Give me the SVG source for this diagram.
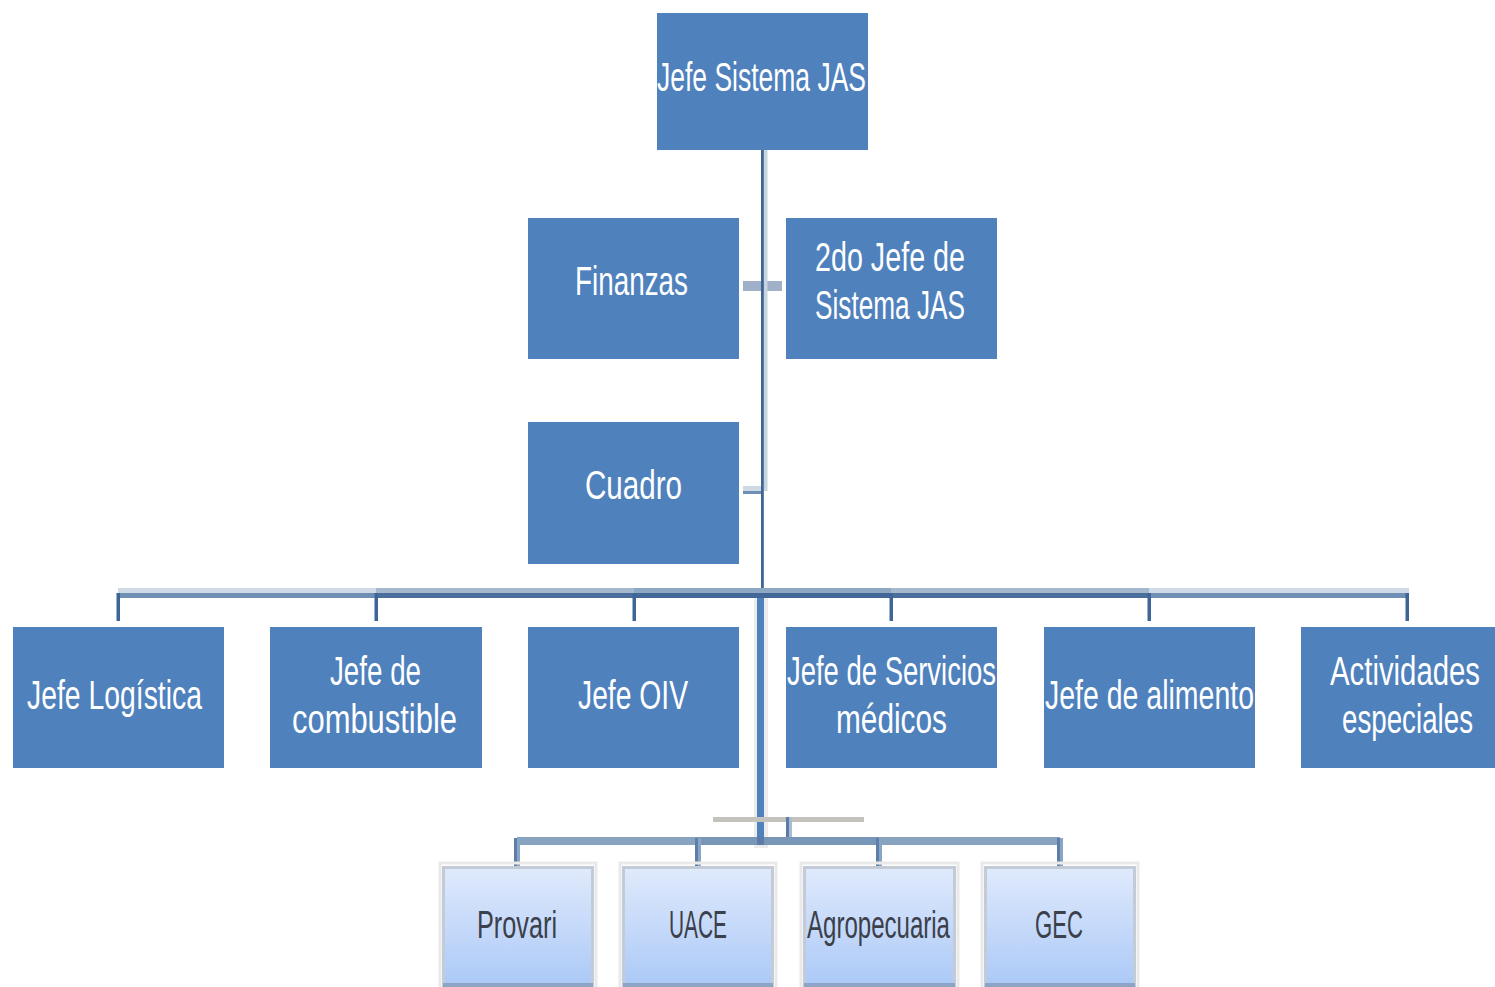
<svg xmlns="http://www.w3.org/2000/svg" width="1495" height="987" viewBox="0 0 1495 987">
  <style>
    .box { fill: #4f81bd; }
    .lbl { font-family: "Liberation Sans", Arial, sans-serif; font-size: 40px; fill: #ffffff; text-anchor: middle; }
    .sub { fill: url(#subFill); stroke: #c3cbd6; stroke-width: 3; }
    .subShade { fill: none; stroke: #e9e9e9; stroke-width: 3; }
    .subBase { fill: #8ea4c4; }
    .slbl { font-family: "Liberation Sans", Arial, sans-serif; font-size: 38px; fill: #3b404a; text-anchor: middle; }
    .drop { fill: #3f6597; }
  </style>
  <defs>
    <linearGradient id="subFill" x1="0" y1="0" x2="0" y2="1">
      <stop offset="0" stop-color="#e0eafc"/>
      <stop offset="1" stop-color="#a8c7f7"/>
    </linearGradient>
  </defs>

  <rect width="1495" height="987" fill="#ffffff"/>

  <!-- connectors -->
  <g id="connectors">
    <!-- staff link to Finanzas / 2do Jefe -->
    <rect x="743" y="281" width="39" height="10" fill="#9fb1c8"/>
    <!-- staff link to Cuadro -->
    <rect x="743" y="486" width="18" height="5" fill="#cfd9e3"/>
    <rect x="743" y="491" width="18" height="3" fill="#6f8fb4"/>
    <!-- main trunk -->
    <rect x="763.5" y="150" width="4" height="341" fill="#c8d3e0"/>
    <rect x="761" y="150" width="2.8" height="448" fill="#3f6597"/>
    <!-- horizontal bus to department heads -->
    <rect x="118" y="588" width="258" height="5" fill="#d0dae6"/>
    <rect x="118" y="593" width="258" height="5" fill="#6f8fb4"/>
    <rect x="376" y="588" width="258" height="5" fill="#a5b8cd"/>
    <rect x="376" y="593" width="258" height="5" fill="#4a6f9c"/>
    <rect x="634" y="588" width="257" height="5" fill="#8ea8c3"/>
    <rect x="634" y="593" width="257" height="5" fill="#416898"/>
    <rect x="891" y="588" width="258" height="5" fill="#a5b8cd"/>
    <rect x="891" y="593" width="258" height="5" fill="#4a6f9c"/>
    <rect x="1149" y="588" width="260" height="5" fill="#d0dae6"/>
    <rect x="1149" y="593" width="260" height="5" fill="#6f8fb4"/>
    <!-- drops to department heads -->
    <rect class="drop" x="116.5" y="593" width="3.5" height="28"/>
    <rect class="drop" x="374.5" y="593" width="3.5" height="28"/>
    <rect class="drop" x="632.5" y="593" width="3.5" height="28"/>
    <rect class="drop" x="889.5" y="593" width="3.5" height="28"/>
    <rect class="drop" x="1147.5" y="593" width="3.5" height="28"/>
    <rect class="drop" x="1405.5" y="593" width="3.5" height="28"/>
    <!-- lower trunk to the enterprises -->
    <rect x="754" y="598" width="14" height="250" fill="#ececec"/>
    <rect x="757" y="598" width="7" height="242" fill="#4f81bd"/>
    <!-- grey rule and short link -->
    <rect x="713" y="817" width="151" height="5" fill="#c4c2bc"/>
    <rect x="786" y="817" width="3" height="23" fill="#5a7ca6"/>
    <rect x="789" y="817" width="3" height="23" fill="#a8bcd4"/>
    <!-- lower bus -->
    <rect x="517" y="837" width="181" height="8" fill="#88a3c0"/>
    <rect x="698" y="837" width="181" height="8" fill="#7896b8"/>
    <rect x="879" y="837" width="181" height="8" fill="#88a3c0"/>
    <rect x="757" y="837" width="7" height="8" fill="#5a7ca6"/>
    <!-- drops to enterprises -->
    <rect x="514" y="838" width="3" height="28" fill="#5b7fa8"/>
    <rect x="517" y="838" width="3" height="28" fill="#8aa5c4"/>
    <rect x="695" y="838" width="3" height="28" fill="#5b7fa8"/>
    <rect x="698" y="838" width="3" height="28" fill="#8aa5c4"/>
    <rect x="876" y="838" width="3" height="28" fill="#5b7fa8"/>
    <rect x="879" y="838" width="3" height="28" fill="#8aa5c4"/>
    <rect x="1057" y="838" width="3" height="28" fill="#5b7fa8"/>
    <rect x="1060" y="838" width="3" height="28" fill="#8aa5c4"/>
  </g>

  <!-- top level -->
  <g id="jefe-sistema">
    <rect class="box" x="657" y="13" width="211" height="137"/>
    <text class="lbl" x="761.5" y="91" textLength="209" lengthAdjust="spacingAndGlyphs">Jefe Sistema JAS</text>
  </g>

  <!-- staff units -->
  <g id="finanzas">
    <rect class="box" x="528" y="218" width="211" height="141"/>
    <text class="lbl" x="631.5" y="295" textLength="113" lengthAdjust="spacingAndGlyphs">Finanzas</text>
  </g>
  <g id="segundo-jefe">
    <rect class="box" x="786" y="218" width="211" height="141"/>
    <text class="lbl" x="890" y="271" textLength="150" lengthAdjust="spacingAndGlyphs">2do Jefe de</text>
    <text class="lbl" x="890" y="319" textLength="150" lengthAdjust="spacingAndGlyphs">Sistema JAS</text>
  </g>
  <g id="cuadro">
    <rect class="box" x="528" y="422" width="211" height="142"/>
    <text class="lbl" x="633.5" y="499" textLength="97" lengthAdjust="spacingAndGlyphs">Cuadro</text>
  </g>

  <!-- department heads -->
  <g id="jefe-logistica">
    <rect class="box" x="13" y="627" width="211" height="141"/>
    <text class="lbl" x="114.5" y="709" textLength="175" lengthAdjust="spacingAndGlyphs">Jefe Logística</text>
  </g>
  <g id="jefe-combustible">
    <rect class="box" x="270" y="627" width="212" height="141"/>
    <text class="lbl" x="375.5" y="685" textLength="91" lengthAdjust="spacingAndGlyphs">Jefe de</text>
    <text class="lbl" x="374.5" y="733" textLength="165" lengthAdjust="spacingAndGlyphs">combustible</text>
  </g>
  <g id="jefe-oiv">
    <rect class="box" x="528" y="627" width="211" height="141"/>
    <text class="lbl" x="633" y="709" textLength="110" lengthAdjust="spacingAndGlyphs">Jefe OIV</text>
  </g>
  <g id="jefe-servicios-medicos">
    <rect class="box" x="786" y="627" width="211" height="141"/>
    <text class="lbl" x="891.5" y="685" textLength="209" lengthAdjust="spacingAndGlyphs">Jefe de Servicios</text>
    <text class="lbl" x="891.5" y="733" textLength="111" lengthAdjust="spacingAndGlyphs">médicos</text>
  </g>
  <g id="jefe-alimento">
    <rect class="box" x="1044" y="627" width="211" height="141"/>
    <text class="lbl" x="1149.5" y="709" textLength="209" lengthAdjust="spacingAndGlyphs">Jefe de alimento</text>
  </g>
  <g id="actividades-especiales">
    <rect class="box" x="1301" y="627" width="194" height="141"/>
    <text class="lbl" x="1405" y="685" textLength="150" lengthAdjust="spacingAndGlyphs">Actividades</text>
    <text class="lbl" x="1407.5" y="733" textLength="131" lengthAdjust="spacingAndGlyphs">especiales</text>
  </g>

  <!-- enterprises -->
  <g id="provari">
    <rect class="subShade" x="440" y="863" width="156" height="130"/>
    <rect class="sub" x="443.5" y="867.5" width="149" height="125"/>
    <rect class="subBase" x="443" y="983" width="150" height="4"/>
    <text class="slbl" x="517" y="938" textLength="80" lengthAdjust="spacingAndGlyphs">Provari</text>
  </g>
  <g id="uace">
    <rect class="subShade" x="620" y="863" width="156" height="130"/>
    <rect class="sub" x="623.5" y="867.5" width="149" height="125"/>
    <rect class="subBase" x="623" y="983" width="150" height="4"/>
    <text class="slbl" x="698" y="938" textLength="58" lengthAdjust="spacingAndGlyphs">UACE</text>
  </g>
  <g id="agropecuaria">
    <rect class="subShade" x="801" y="863" width="157" height="130"/>
    <rect class="sub" x="804.5" y="867.5" width="150" height="125"/>
    <rect class="subBase" x="804" y="983" width="151" height="4"/>
    <text class="slbl" x="878.5" y="938" textLength="143" lengthAdjust="spacingAndGlyphs">Agropecuaria</text>
  </g>
  <g id="gec">
    <rect class="subShade" x="982" y="863" width="156" height="130"/>
    <rect class="sub" x="985.5" y="867.5" width="149" height="125"/>
    <rect class="subBase" x="985" y="983" width="150" height="4"/>
    <text class="slbl" x="1059" y="938" textLength="48" lengthAdjust="spacingAndGlyphs">GEC</text>
  </g>
</svg>
